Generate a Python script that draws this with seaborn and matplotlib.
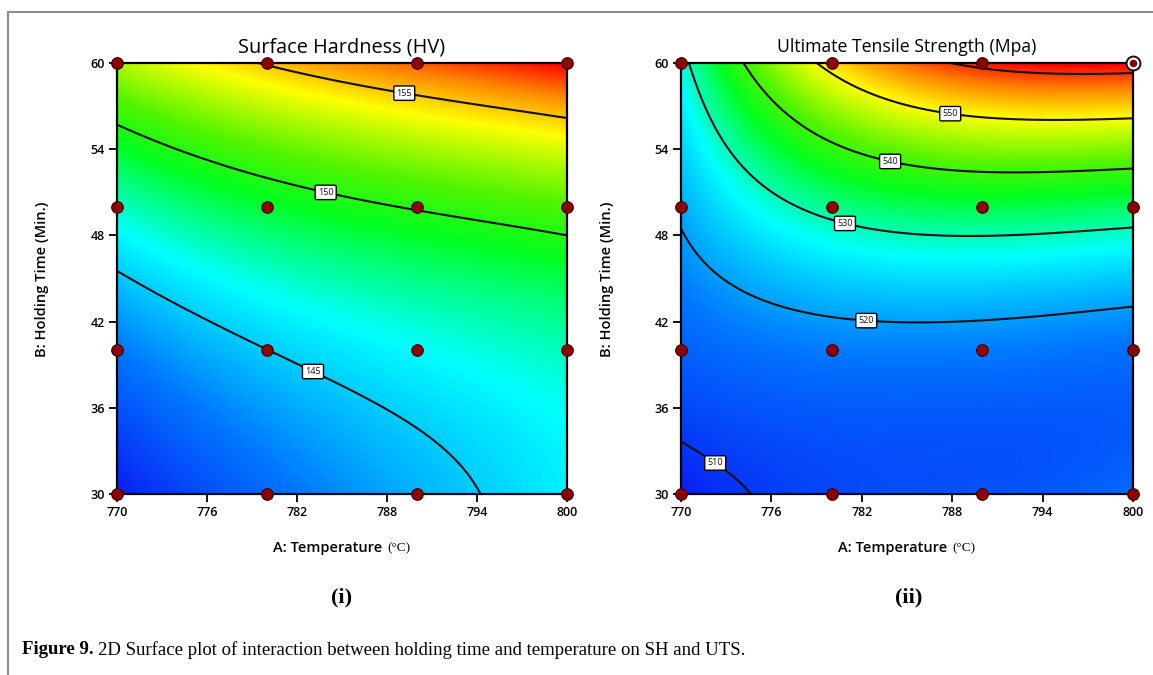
import numpy as np
import pandas as pd
import matplotlib
matplotlib.use("Agg")
import matplotlib.pyplot as plt
import seaborn as sns
from matplotlib.colors import LinearSegmentedColormap
from matplotlib.lines import Line2D

# ---------------- data ----------------
design_temp = [770, 780, 790, 800]
design_time = [30, 40, 50, 60]
x_ticks = [770, 776, 782, 788, 794, 800]
y_ticks = [30, 36, 42, 48, 54, 60]

# Surface hardness: points read on the contour lines and at the corners
sh_temp = [779, 782.2, 785.5, 788.9, 794, 800,
           770, 775.6, 782.2, 788.9, 794, 800,
           770, 775, 780, 783.6, 788.4, 790.6, 792.9, 794.1, 795.3,
           770, 800, 770, 800]
sh_time = [60, 59.3, 58.7, 57.9, 57.0, 56.2,
           55.3, 53.3, 51.5, 50.1, 49.1, 48.0,
           45.6, 43.0, 40.3, 37.9, 34.9, 33.6, 32.1, 31.05, 30,
           30, 30, 60, 60]
sh_value = [155, 155, 155, 155, 155, 155,
            150, 150, 150, 150, 150, 150,
            145, 145, 145, 145, 145, 145, 145, 145, 145,
            139.5, 146, 152.5, 158.2]
sh_levels = [145, 150, 155]
sh_label_temp = [783.1, 784.0, 789.2]
sh_label_time = [38.6, 51.4, 58.2]

# Ultimate tensile strength: points read on the contour lines and elsewhere
uts_temp = [770, 771.2, 772.3, 773.6, 774.9,
            770, 770.8, 772.1, 775.4, 778.8, 782.3, 789.8, 795, 800,
            770.6, 773.3, 776.6, 780.9, 785.4, 789.8, 795, 800,
            774.1, 777.2, 783.3, 789.8, 795, 800,
            779, 782.5, 787.9, 794, 800,
            787.5, 793.8, 800,
            770, 785, 800, 800, 770, 800]
uts_time = [33.6, 32.8, 32.0, 31.0, 30,
            48.6, 47.2, 45.6, 43.5, 42.6, 42.1, 42.2, 42.7, 43.3,
            60, 53.3, 50.7, 48.85, 48.0, 47.9, 48.0, 48.2,
            60, 56.7, 53.2, 52.3, 52.4, 52.8,
            60, 57.8, 56.7, 56.3, 56.2,
            60, 59.2, 59.3,
            30, 30, 30, 36, 60, 60]
uts_value = [510, 510, 510, 510, 510,
             520, 520, 520, 520, 520, 520, 520, 520, 520,
             530, 530, 530, 530, 530, 530, 530, 530,
             540, 540, 540, 540, 540, 540,
             550, 550, 550, 550, 550,
             560, 560, 560,
             507, 512.5, 516, 514, 528.5, 562.5]
uts_levels = [510, 520, 530, 540, 550, 560]
uts_label_levels = [510, 520, 530, 540, 550]
uts_label_temp = [772.3, 782.3, 780.9, 783.9, 787.9]
uts_label_time = [32.2, 42.1, 48.9, 53.25, 56.7]

# ---------------- helpers ----------------
def basis(a, b, full):
    if full:   # bicubic terms
        terms = [a ** i * b ** j for i in range(4) for j in range(4)]
    else:      # cubic terms
        terms = [a ** i * b ** j for i in range(4) for j in range(4) if i + j <= 3]
    return np.stack(terms, axis=-1)

def fitted_surface(T, t, v, TT, tt, full):
    a = (np.asarray(T, float) - 785) / 15
    b = (np.asarray(t, float) - 45) / 15
    coef, *_ = np.linalg.lstsq(basis(a, b, full), np.asarray(v, float), rcond=None)
    return basis((TT - 785) / 15, (tt - 45) / 15, full) @ coef

cmap = LinearSegmentedColormap.from_list(
    "de", [(0.0, "#0a1ef5"), (0.18, "#0078ff"), (0.36, "#00ffff"),
           (0.52, "#00ff20"), (0.62, "#50f500"), (0.78, "#ffff00"),
           (0.9, "#ff8000"), (1.0, "#ff0000")])

sns.set_theme(style="ticks")
plt.rcParams['font.family'] = ['Open Sans', 'DejaVu Sans']

W, H = 1153, 675
fig = plt.figure(figsize=(W / 100, H / 100), dpi=100)
fx = lambda x: x / W
fy = lambda y: 1 - y / H

ax1 = fig.add_axes([fx(117), fy(494), (567 - 117) / W, (494 - 63) / H])
ax2 = fig.add_axes([fx(681), fy(494), (1133 - 681) / W, (494 - 63) / H])

grid_T, grid_t = np.meshgrid(np.linspace(770, 800, 301), np.linspace(30, 60, 301))
design_df = pd.DataFrame([(a, b) for b in design_time for a in design_temp],
                         columns=["temp", "time"])


def draw_panel(ax, T, t, v, levels, label_levels, lab_T, lab_t, full):
    Z = fitted_surface(T, t, v, grid_T, grid_t, full)
    ax.imshow(Z, extent=(770, 800, 30, 60), origin="lower", aspect="auto",
              cmap=cmap, vmin=Z.min(), vmax=Z.max(), interpolation="bilinear", zorder=1)
    cs = ax.contour(grid_T, grid_t, Z, levels=levels, colors="#111111",
                    linewidths=1.5, zorder=2)
    labels = ax.clabel(cs, levels=label_levels, inline=False, fmt="%d", fontsize=6.5,
                       manual=list(zip(lab_T, lab_t)))
    for tx in labels:
        tx.set_rotation(0)
        tx.set_zorder(4)
        tx.set_bbox(dict(boxstyle="round,pad=0.3,rounding_size=0.15", fc="white",
                         ec="black", lw=1.0))
    sns.scatterplot(data=design_df, x="temp", y="time", ax=ax, s=70,
                    color="#8b0000", edgecolor="#3a0000", linewidth=0.8,
                    zorder=5, clip_on=False, legend=False)
    ax.set_xlim(770, 800)
    ax.set_ylim(30, 60)
    ax.set_xticks(x_ticks)
    ax.set_yticks(y_ticks)
    ax.set_xlabel("")
    ax.set_ylabel("")
    ax.tick_params(direction="out", length=6, width=1.3, labelsize=9, pad=3,
                   colors="black", bottom=True, left=True)
    for lab in ax.get_xticklabels() + ax.get_yticklabels():
        lab.set_fontweight("semibold")
    for sp in ax.spines.values():
        sp.set_linewidth(1.6)
        sp.set_color("black")
        sp.set_zorder(3)


draw_panel(ax1, sh_temp, sh_time, sh_value, sh_levels, sh_levels,
           sh_label_temp, sh_label_time, full=False)
draw_panel(ax2, uts_temp, uts_time, uts_value, uts_levels, uts_label_levels,
           uts_label_temp, uts_label_time, full=True)
# highlighted point at the top-right corner of the UTS plot
ax2.scatter([design_temp[-1]], [design_time[-1]], s=100, fc="white", ec="#111111",
            lw=1.4, zorder=6, clip_on=False)
ax2.scatter([design_temp[-1]], [design_time[-1]], s=20, c="#8b0000", zorder=7, clip_on=False)

# titles and axis labels
fig.text(fx(342), fy(47), "Surface Hardness (HV)", ha="center", va="center",
         fontsize=14.3, color="black")
fig.text(fx(907), fy(47), "Ultimate Tensile Strength (Mpa)", ha="center", va="center",
         fontsize=12.7, color="black")
for cx in (42, 607):
    fig.text(fx(cx), fy(279), "B: Holding Time (Min.)", ha="center", va="center",
             rotation=90, fontsize=10.5, fontweight="semibold", color="black")

fig.canvas.draw()
renderer = fig.canvas.get_renderer()
for cx in (342, 907):
    t1 = fig.text(0, fy(548), "A: Temperature", ha="left", va="center", fontsize=10.5,
                  fontweight="semibold", color="black")
    t2 = fig.text(0, fy(548), "(\u00b0C)", ha="left", va="center", fontsize=9.5,
                  family=["Liberation Serif", "DejaVu Serif"], color="black")
    w1 = t1.get_window_extent(renderer).width
    w2 = t2.get_window_extent(renderer).width
    gap = 5
    start = cx - (w1 + gap + w2) / 2
    t1.set_x(fx(start))
    t2.set_x(fx(start + w1 + gap))

fig.text(fx(342), fy(597), "(i)", ha="center", va="center", fontsize=16,
         fontweight="bold", family=["Liberation Serif", "DejaVu Serif"], color="black")
fig.text(fx(909), fy(597), "(ii)", ha="center", va="center", fontsize=16,
         fontweight="bold", family=["Liberation Serif", "DejaVu Serif"], color="black")

c1 = fig.text(fx(22), fy(650), "Figure 9.", ha="left", va="center", fontsize=13.5,
              fontweight="bold", family=["Liberation Serif", "DejaVu Serif"], color="black")
wc = c1.get_window_extent(renderer).width
fig.text(fx(22 + wc + 4), fy(650),
         "2D Surface plot of interaction between holding time and temperature on SH and UTS.",
         ha="left", va="center", fontsize=13.5, family=["Liberation Serif", "DejaVu Serif"],
         color="black")

# frame of the figure panel
fig.add_artist(Line2D([fx(8), 1.0], [fy(12), fy(12)], color="#8c8c8c", lw=1.5))
fig.add_artist(Line2D([fx(8), fx(8)], [fy(12), 0.0], color="#8c8c8c", lw=1.5))

fig.savefig("out.png", dpi=100)
